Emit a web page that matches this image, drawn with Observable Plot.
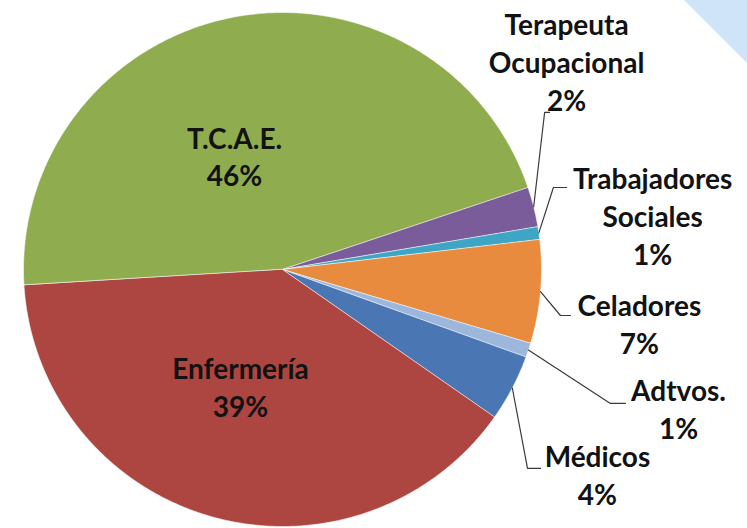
<!DOCTYPE html>
<html><head><meta charset="utf-8">
<script src="https://cdn.jsdelivr.net/npm/d3@7"></script>
<script src="https://cdn.jsdelivr.net/npm/@observablehq/plot@0.6"></script>
<style>
body{margin:0;background:#fff;}
#wrap{position:relative;width:747px;height:528px;overflow:hidden;background:#fff;}
#deco{position:absolute;left:0;top:0;width:747px;height:528px;clip-path:polygon(684px 0,747px 0,747px 63px);background:linear-gradient(225deg,#cfe4f8 0%,#d8eaf9 100%);}
#chart{position:absolute;left:0;top:0;}
</style></head><body>
<div id="wrap"><div id="deco"></div><div id="chart"></div></div>
<script>
// ---- data ----
const categories = ["T.C.A.E.", "Terapeuta\nOcupacional", "Trabajadores\nSociales", "Celadores", "Adtvos.", "Médicos", "Enfermería"];
// slice shares (labels show the rounded percentages)
const values = [45.8, 2.5, 0.8, 6.5, 0.9, 4.2, 39.3];
const percentLabels = ["46%", "2%", "1%", "7%", "1%", "4%", "39%"];
const colors = ["#8fad4e", "#7b5c9a", "#3ea6c4", "#e88b3f", "#9db6dc", "#4a77b4", "#ad4541"];

// ---- layout (unit pie coordinates) ----
const startDeg = 266.5;
const labelPos = [
  {x: -0.185, y: -0.323},
  {x: 1.097, y: -0.615},
  {x: 1.429, y: -0.019},
  {x: 1.378, y: 0.327},
  {x: 1.529, y: 0.661},
  {x: 1.216, y: 0.918},
  {x: -0.162, y: 0.572}
];
const leaderElbows = [
  null,
  [{x: 1.012, y: -0.611}, {x: 1.031, y: -0.611}],
  [{x: 1.046, y: -0.319}, {x: 1.097, y: -0.319}],
  [{x: 1.073, y: 0.179}, {x: 1.112, y: 0.179}],
  [{x: 1.266, y: 0.521}, {x: 1.324, y: 0.521}],
  [{x: 0.946, y: 0.774}, {x: 0.996, y: 0.774}],
  null
];

const rad = d => d * Math.PI / 180;
const arcs = d3.pie().sort(null).startAngle(rad(startDeg)).endAngle(rad(startDeg + 360))(values);

const sliceMarks = arcs.map((a, i) => {
  const pts = [{x: 0, y: 0}];
  const n = Math.max(2, Math.ceil((a.endAngle - a.startAngle) / rad(0.5)));
  for (let k = 0; k <= n; k++) {
    const t = a.startAngle + (a.endAngle - a.startAngle) * k / n;
    pts.push({x: Math.sin(t), y: -Math.cos(t)});
  }
  return Plot.line(pts, {x: "x", y: "y", curve: "linear-closed", fill: colors[i], stroke: "#ffffff", strokeOpacity: 0.55, strokeWidth: 1});
});

const leaderMarks = arcs.map((a, i) => {
  if (!leaderElbows[i]) return null;
  const m = (a.startAngle + a.endAngle) / 2;
  const pts = [{x: Math.sin(m), y: -Math.cos(m)}, ...leaderElbows[i]];
  return Plot.line(pts, {x: "x", y: "y", stroke: "#3a3a3a", strokeWidth: 1.2});
}).filter(Boolean);

const labelRows = categories.map((c, i) => ({x: labelPos[i].x, y: labelPos[i].y, text: c + "\n" + percentLabels[i]}));

const chart = Plot.plot({
  width: 747,
  height: 528,
  margin: 0,
  x: {domain: [-1, 1], range: [23, 541], axis: null},
  y: {domain: [-1, 1], range: [12, 526], axis: null},
  style: {background: "transparent", fontFamily: "Lato, 'Open Sans', sans-serif"},
  marks: [
    ...sliceMarks,
    ...leaderMarks,
    Plot.text(labelRows, {x: "x", y: "y", text: "text", textAnchor: "middle", lineAnchor: "bottom", lineHeight: 1.357, fontSize: 28, fontWeight: "bold", fill: "#121212", fontFamily: "Lato"})
  ]
});
document.getElementById("chart").appendChild(chart);
</script>
</body></html>
